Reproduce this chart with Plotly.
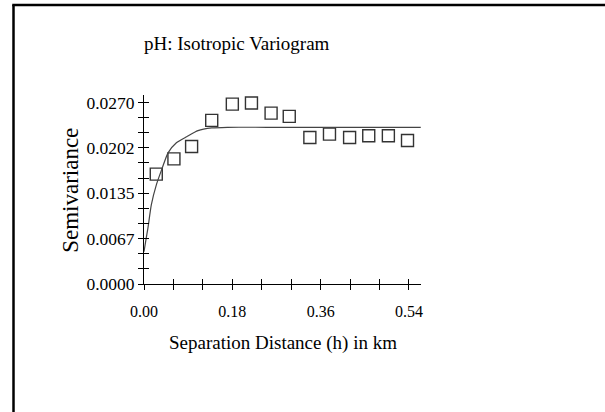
import plotly.graph_objects as go

# Experimental variogram (lag distance in km, semivariance)
lag_km = [0.025, 0.061, 0.097, 0.138, 0.180, 0.219, 0.259, 0.296, 0.338, 0.378, 0.419, 0.458, 0.498, 0.537]
semivar = [0.01633, 0.01861, 0.02045, 0.02432, 0.02675, 0.0269, 0.02541, 0.02492,
           0.02179, 0.02228, 0.02179, 0.02204, 0.02204, 0.02134]

# Fitted model curve
model_h = [0.0, 0.004, 0.008, 0.015, 0.025, 0.036, 0.049, 0.066, 0.087, 0.110, 0.138, 0.17, 0.25, 0.40, 0.564]
model_g = [0.0048, 0.0066, 0.0083, 0.0118, 0.0147, 0.0170, 0.0195, 0.0210, 0.0219, 0.0228, 0.0232,
           0.0233, 0.0233, 0.0233, 0.0233]

x_tickvals = [0.0, 0.06, 0.12, 0.18, 0.24, 0.30, 0.36, 0.42, 0.48, 0.54]
x_ticktext = ["0.00", "", "", "0.18", "", "", "0.36", "", "", "0.54"]
y_tickvals = [0.0, 0.00225, 0.0045, 0.00675, 0.009, 0.01125, 0.0135, 0.01575, 0.018, 0.02025,
              0.0225, 0.02475, 0.027]
y_ticktext = ["0.0000", "", "", "0.0067", "", "", "0.0135", "", "", "0.0202", "", "", "0.0270"]

title_text = "pH: Isotropic Variogram"
x_title = "Separation Distance (h) in km"
y_title = "Semivariance"

FONT = "Liberation Serif"

fig = go.Figure()
fig.add_trace(go.Scatter(
    x=model_h, y=model_g, mode="lines", line=dict(color="#444444", width=1.2, shape="spline", smoothing=0.6),
    xaxis="x2", yaxis="y2", hoverinfo="skip", showlegend=False))
fig.add_trace(go.Scatter(
    x=lag_km, y=semivar, mode="markers",
    marker=dict(symbol="square-open", size=12, color="#333333", line=dict(width=1.4, color="#333333")),
    showlegend=False))

X_RANGE = [0, 0.5645]
Y_RANGE = [0, 0.0281]

common_x = dict(range=X_RANGE, tickvals=x_tickvals, showgrid=False, zeroline=False,
                showline=True, linecolor="black", linewidth=1, tickcolor="black", ticklen=5, tickwidth=1)
common_y = dict(range=Y_RANGE, tickvals=y_tickvals, showgrid=False, zeroline=False,
                showline=True, linecolor="black", linewidth=1, tickcolor="black", ticklen=5, tickwidth=1)

fig.update_layout(
    width=605, height=412,
    margin=dict(l=144, r=184, t=95, b=128),
    paper_bgcolor="white", plot_bgcolor="white",
    font=dict(family=FONT, color="black"),
    xaxis=dict(**common_x, ticktext=x_ticktext, ticks="outside",
               tickfont=dict(family=FONT, size=16, color="black"), ticklabelstandoff=8),
    yaxis=dict(**common_y, ticktext=y_ticktext, ticks="outside",
               tickfont=dict(family=FONT, size=17.5, color="black")),
    xaxis2=dict(**common_x, overlaying="x", matches="x", ticks="inside", showticklabels=False),
    yaxis2=dict(**common_y, overlaying="y", matches="y", ticks="inside", showticklabels=False),
    annotations=[
        dict(text=title_text, xref="paper", yref="paper", x=0.3375, y=1.275, xanchor="center",
             yanchor="middle", showarrow=False, font=dict(family=FONT, size=19, color="black")),
        dict(text=x_title, xref="paper", yref="paper", x=0.5036, y=-0.312, xanchor="center",
             yanchor="middle", showarrow=False, font=dict(family=FONT, size=19, color="black")),
        dict(text=y_title, xref="paper", yref="paper", x=-0.268, y=0.497, xanchor="center",
             yanchor="middle", textangle=-90, showarrow=False,
             font=dict(family=FONT, size=23, color="black")),
    ],
    shapes=[
        dict(type="line", xref="paper", yref="paper", x0=-0.4711, x1=-0.4711, y0=-0.70, y1=1.476,
             line=dict(color="black", width=2.5)),
        dict(type="line", xref="paper", yref="paper", x0=-0.4757, x1=1.70, y0=1.476, y1=1.476,
             line=dict(color="black", width=2.5)),
    ],
)

fig.write_html("out.html", config={"displayModeBar": False},
               post_script="document.body.style.margin='0px';")
